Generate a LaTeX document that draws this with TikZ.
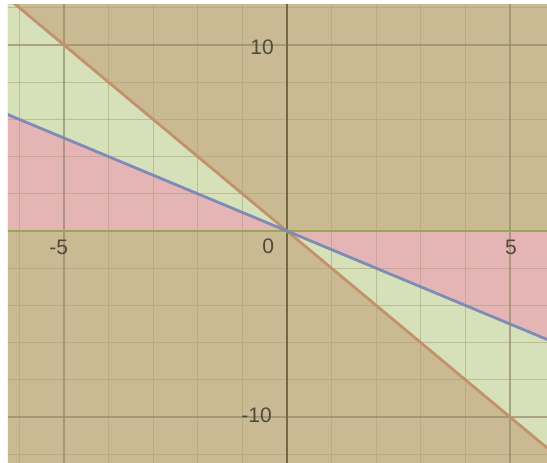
\documentclass[tikz,border=0pt]{standalone}
\usepackage{fontspec}
\setsansfont{Liberation Sans}
\definecolor{shadetan}{RGB}{201,186,148}
\definecolor{shadegreen}{RGB}{214,225,186}
\definecolor{shadepink}{RGB}{229,181,182}
\definecolor{gridtan}{RGB}{178,162,122}
\definecolor{axisbrown}{RGB}{118,104,66}
\definecolor{zeroline}{RGB}{150,168,80}
\definecolor{steepline}{RGB}{194,146,108}
\definecolor{flatline}{RGB}{124,140,182}
\definecolor{labelgray}{RGB}{80,74,58}

\begin{document}
\begin{tikzpicture}
[x=44.6pt, y=18.6pt,
% STYLES
minorgrid/.style={draw=gridtan, line width=1pt, opacity=0.6},
majorgrid/.style={draw=gridtan!85!black, line width=1.6pt, opacity=0.7},
ticklabel/.style={font=\fontsize{21}{21}\sffamily, text=labelgray, inner sep=0pt},
boundary/.style={line width=2.8pt, line cap=round}]

\useasboundingbox (-6.435,-12.42) rectangle (5.83,12.42);

\begin{scope}
\clip (-6.256,-12.42) rectangle (5.83,12.2);

% shaded regions
\fill[shadetan] (-7,-13) rectangle (7,13);
\fill[shadegreen] (0,0) -- (-7,14) -- (-7,7) -- cycle;
\fill[shadepink] (0,0) -- (-7,7) -- (-7,0) -- cycle;
\fill[shadegreen] (0,0) -- (7,-14) -- (7,-7) -- cycle;
\fill[shadepink] (0,0) -- (7,-7) -- (7,0) -- cycle;

% grid
\foreach \gx in {-6,-4,-3,-2,-1,1,2,3,4}
  \draw[minorgrid] (\gx,-13) -- (\gx,13);
\foreach \gy in {-12,-8,-6,-4,-2,2,4,6,8,12}
  \draw[minorgrid] (-7,\gy) -- (7,\gy);
\foreach \gx in {-5,5}
  \draw[majorgrid] (\gx,-13) -- (\gx,13);
\foreach \gy in {-10,10}
  \draw[majorgrid] (-7,\gy) -- (7,\gy);

% axes
\draw[axisbrown, line width=1.4pt] (0,-13) -- (0,13);
\draw[zeroline, line width=1.8pt] (-7,0) -- (7,0);

% boundary lines
\coordinate (steeptop) at (-7,14);
\coordinate (steepbot) at (7,-14);
\coordinate (flattop) at (-7,7);
\coordinate (flatbot) at (7,-7);
\draw[boundary, steepline] (steeptop) -- (steepbot);
\draw[boundary, flatline] (flattop) -- (flatbot);
\end{scope}

% tick labels
\node[ticklabel] (xm5) at (-5.12,-0.9) {-5};
\node[ticklabel] (xzero) at (-0.42,-0.8) {0};
\node[ticklabel] (xp5) at (5.02,-0.9) {5};
\node[ticklabel] (yp10) at (-0.56,9.9) {10};
\node[ticklabel] (ym10) at (-0.68,-9.9) {-10};

\end{tikzpicture}
\end{document}
